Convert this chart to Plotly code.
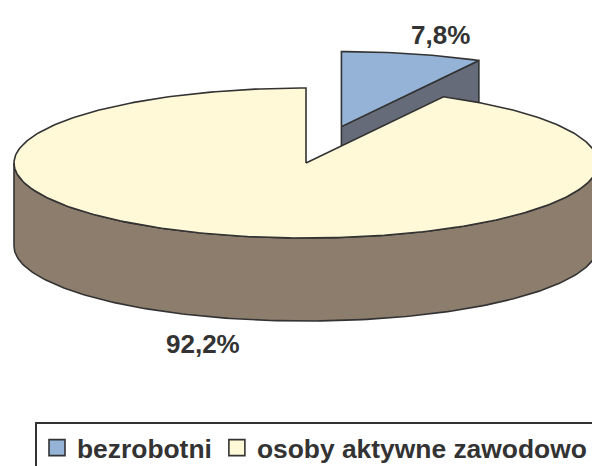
import numpy as np
import plotly.graph_objects as go

# ---- data ----
categories = ["bezrobotni", "osoby aktywne zawodowo"]
shares = [7.8, 92.2]
share_labels = ["7,8%", "92,2%"]

# ---- styling / geometry (pixel space; visible window is 592x466) ----
W, H = 592, 466
FW, FH = 620, 492          # figure slightly larger: legend box runs off-canvas
CX, CY = 306, 163          # centre of the pie top face
RA, RB = 292, 75           # ellipse semi-axes of the top face
DEPTH = 83                 # thickness of the pie
START = 90.0               # first slice starts at 12 o'clock, clockwise
explode = [0.5, 0.0]
top_colors = ["#95B3D7", "#FFF9D8"]
side_colors = ["#656B78", "#8C7D6D"]
edge = "#333333"
label_xy = [(440, 35), (202.5, 344)]
FONT = "Liberation Sans, Arial, sans-serif"
LEG_X, LEG_Y = 35, 422


def pt(cx, cy, t, r=1.0, dz=0.0):
    t = np.radians(t)
    return cx + RA * r * np.cos(t), cy - RB * r * np.sin(t) + dz


def arc(cx, cy, t0, t1, dz=0.0, n=None):
    n = n or max(2, int(abs(t1 - t0) / 1.0) + 1)
    ts = np.linspace(t0, t1, n)
    xs, ys = pt(cx, cy, ts, 1.0, dz)
    return list(xs), list(ys)


def front_ranges(t_hi, t_lo):
    """parts of [t_lo, t_hi] where the outer wall faces the viewer (sin<0)"""
    out = []
    k0 = int(np.floor(t_lo / 360.0)) - 1
    for k in range(k0, k0 + 4):
        a, b = 180 + 360 * k, 360 + 360 * k
        lo, hi = max(a, t_lo), min(b, t_hi)
        if hi > lo:
            out.append((hi, lo))
    return out


fig = go.Figure()


def poly(xs, ys, fill):
    fig.add_trace(go.Scatter(
        x=xs + [xs[0]], y=ys + [ys[0]], mode="lines", fill="toself",
        fillcolor=fill, line=dict(color=edge, width=1.6),
        hoverinfo="skip", showlegend=False))


total = float(sum(shares))
t = START
slices = []
for i, v in enumerate(shares):
    sweep = 360.0 * v / total
    t_hi, t_lo = t, t - sweep
    mid = np.radians((t_hi + t_lo) / 2)
    ox = RA * explode[i] * np.cos(mid)
    oy = -RB * explode[i] * np.sin(mid)
    slices.append((i, t_hi, t_lo, CX + ox, CY + oy))
    t = t_lo

# paint back-to-front: slices whose centre is higher on screen first
for i, t_hi, t_lo, cx, cy in sorted(slices, key=lambda s: s[4]):
    # radial walls
    for tt, vis in ((t_hi, np.cos(np.radians(t_hi)) < -1e-9),
                    (t_lo, np.cos(np.radians(t_lo)) > 1e-9)):
        if vis:
            ex, ey = pt(cx, cy, tt)
            xs = [cx, ex, ex, cx]
            ys = [cy, ey, ey + DEPTH, cy + DEPTH]
            poly(xs, ys, side_colors[i])
    # outer wall
    for hi, lo in front_ranges(t_hi, t_lo):
        xt, yt = arc(cx, cy, hi, lo)
        xb, yb = arc(cx, cy, lo, hi, DEPTH)
        poly(xt + xb, yt + yb, side_colors[i])
    # top face
    xa, ya = arc(cx, cy, t_hi, t_lo)
    poly([cx] + xa, [cy] + ya, top_colors[i])

# legend entries
for i, name in enumerate(categories):
    fig.add_trace(go.Scatter(
        x=[None], y=[None], mode="markers", name=name,
        marker=dict(symbol="square", size=16, color=top_colors[i],
                    line=dict(color=edge, width=1.6))))

for (lx, ly), txt in zip(label_xy, share_labels):
    fig.add_annotation(x=lx, y=ly, text=txt, showarrow=False,
                       xanchor="center", yanchor="middle",
                       font=dict(family=FONT, size=26, color="#333333",
                                 weight="bold"))

fig.update_layout(
    width=FW, height=FH,
    margin=dict(l=0, r=0, t=0, b=0),
    paper_bgcolor="white", plot_bgcolor="white",
    xaxis=dict(range=[0, FW], visible=False, fixedrange=True),
    yaxis=dict(range=[FH, 0], visible=False, fixedrange=True),
    showlegend=True,
    legend=dict(orientation="h", x=LEG_X / FW, xanchor="left",
                y=1 - LEG_Y / FH, yanchor="top",
                bordercolor=edge, borderwidth=2, bgcolor="white",
                font=dict(family=FONT, size=26.4, color="#333333",
                          weight="bold"),
                itemwidth=30, tracegroupgap=0),
)

fig.write_html(
    "out.html",
    config={"displayModeBar": False},
    post_script="document.body.style.margin='0';"
                "document.body.style.overflow='hidden';",
)
